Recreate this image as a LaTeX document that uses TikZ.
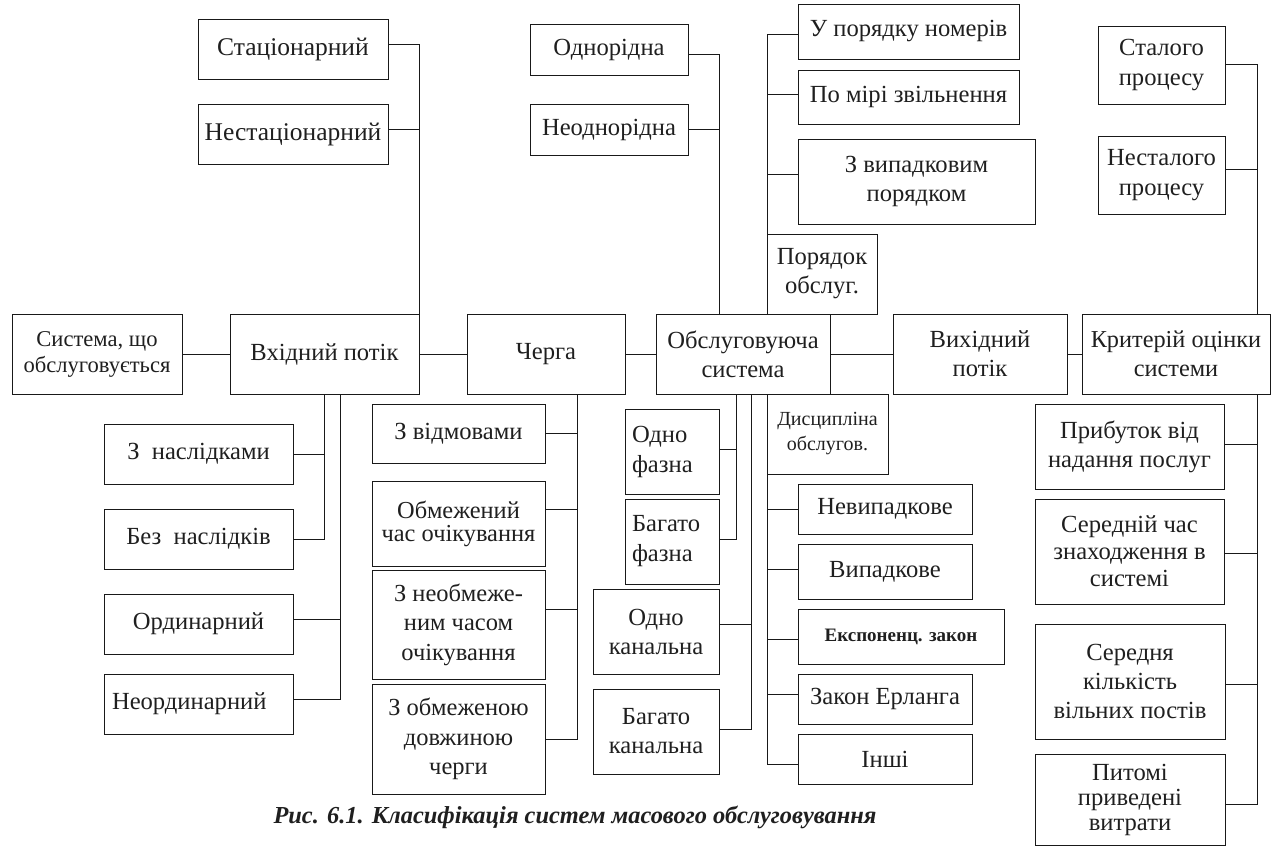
\documentclass[tikz,border=0pt]{standalone}
\usepackage{fontspec}
\setmainfont{Liberation Serif}
\newcommand\bxnode[7]{%
  \pgfmathsetmacro\bxw{#4-#2}\pgfmathsetmacro\bxh{#5-#3}%
  \node[box,minimum width=\bxw pt,minimum height=\bxh pt,#6] (#1) at ({(#2+#4)/2},{(#3+#5)/2}) {#7};}
\begin{document}
\begin{tikzpicture}[x=1pt,y=-1pt,
  box/.style={draw=black!90, line width=0.9pt, inner sep=2pt, outer sep=0pt, align=center,
    text=black!88, font=\fontsize{24.6}{29}\selectfont},
  ln/.style={draw=black!90, line width=0.9pt},
  small/.style={font=\fontsize{20}{25}\selectfont}]
\useasboundingbox (0,0) rectangle (1271,848);
% main row
\bxnode{sys}{12}{314}{182}{394}{font=\fontsize{22.6}{26}\selectfont}{Система, що\\обслуговується}
\bxnode{vhid}{230}{314}{419}{394}{}{Вхідний потік}
\bxnode{cherga}{467}{314}{625}{394}{}{Черга}
\bxnode{obsl}{656}{314}{830}{394}{}{Обслуговуюча\\система}
\bxnode{vyh}{893}{314}{1067}{394}{}{Вихідний\\потік}
\bxnode{krit}{1082}{314}{1270}{394}{font=\fontsize{24.3}{29}\selectfont}{Критерій оцінки\\системи}
% input flow
\bxnode{stac}{198}{19}{388}{79}{font=\fontsize{25.5}{29}\selectfont}{Стаціонарний}
\bxnode{nestac}{198}{104}{388}{164}{font=\fontsize{25.5}{29}\selectfont}{Нестаціонарний}
\bxnode{nasl}{104}{424}{293}{484}{}{З~ наслідками}
\bxnode{beznasl}{104}{509}{293}{569}{}{Без~ наслідків}
\bxnode{ordin}{104}{594}{293}{654}{}{Ординарний}
\bxnode{neordin}{104}{674}{293}{734}{align=left,text width=173pt,inner xsep=8pt}{Неординарний}
% queue
\bxnode{vidm}{372}{404}{545}{463}{}{З відмовами}
\bxnode{obmch}{372}{474}{545}{559}{font=\fontsize{24.4}{23}\selectfont,yshift=-7pt}{Обмежений\\час очікування}
\bxnode{neobm}{372}{570}{545}{679}{font=\fontsize{24.5}{29.5}\selectfont}{З необмеже-\\ним часом\\очікування}
\bxnode{obmdov}{372}{684}{545}{794}{font=\fontsize{24.5}{29.5}\selectfont}{З обмеженою\\довжиною\\черги}
% serving system
\bxnode{odnor}{530}{24}{688}{75}{}{Однорідна}
\bxnode{neodnor}{530}{104}{688}{155}{}{Неоднорідна}
\bxnode{unom}{798}{4}{1019}{59}{}{У порядку номерів}
\bxnode{pomiri}{798}{70}{1019}{124}{}{По мірі звільнення}
\bxnode{zvyp}{798}{139}{1035}{224}{}{З випадковим\\порядком}
\bxnode{poryad}{767}{234}{877}{314}{}{Порядок\\обслуг.}
\bxnode{odnof}{625}{409}{719}{494}{align=left,text width=80pt,inner xsep=6pt,font=\fontsize{24.6}{30}\selectfont}{Одно\\фазна}
\bxnode{bagf}{625}{499}{719}{584}{align=left,text width=80pt,inner xsep=6pt,font=\fontsize{24.6}{30}\selectfont}{Багато\\фазна}
\bxnode{odnok}{593}{589}{719}{674}{}{Одно\\канальна}
\bxnode{bagk}{593}{689}{719}{774}{}{Багато\\канальна}
\bxnode{dysc}{767}{394}{888}{474}{small}{Дисципліна\\обслугов.}
\bxnode{nevyp}{798}{484}{972}{534}{}{Невипадкове}
\bxnode{vyp}{798}{544}{972}{599}{}{Випадкове}
\bxnode{exp}{798}{609}{1004}{664}{font=\fontsize{19}{22}\selectfont\bfseries}{Експоненц. закон}
\bxnode{erl}{798}{674}{972}{724}{}{Закон Ерланга}
\bxnode{inshi}{798}{734}{972}{784}{}{Інші}
% criteria
\bxnode{stal}{1098}{26}{1225}{104}{font=\fontsize{24.6}{30}\selectfont}{Сталого\\процесу}
\bxnode{nestal}{1098}{136}{1225}{214}{font=\fontsize{24.6}{30}\selectfont}{Несталого\\процесу}
\bxnode{prib}{1035}{404}{1224}{489}{}{Прибуток від\\надання послуг}
\bxnode{sered}{1035}{499}{1224}{604}{font=\fontsize{24.6}{27}\selectfont}{Середній час\\знаходження в\\системі}
\bxnode{serk}{1035}{624}{1225}{739}{}{Середня\\кількість\\вільних постів}
\bxnode{pyt}{1035}{754}{1225}{845}{font=\fontsize{24.6}{25}\selectfont}{Питомі\\приведені\\витрати}
% caption
\node[text=black!88, font=\fontsize{24.4}{28}\selectfont\bfseries\itshape] (cap) at (575,817) {Рис. 6.1. Класифікація систем масового обслуговування};
% bus coordinates
\coordinate (vb2) at (340,394);
\coordinate (cb) at (577,394);
\coordinate (ot) at (719,314);
\coordinate (o1) at (736,394);
\coordinate (o2) at (751,394);
\coordinate (kt) at (1257,314);
\coordinate (kb) at (1257,394);
% main row connectors
\draw[ln] (sys) -- (vhid);
\draw[ln] (vhid) -- (cherga);
\draw[ln] (cherga) -- (obsl);
\draw[ln] (obsl) -- (vyh);
\draw[ln] (vyh) -- (krit);
% input flow connectors
\draw[ln] (stac.east |- 0,44) -| (vhid.north east);
\draw[ln] (nestac.east |- 0,129) -- (vhid.north east |- 0,129);
\draw[ln] (nasl.east) -- (nasl.east -| vhid.south);
\draw[ln] (beznasl.east) -| (vhid.south);
\draw[ln] (ordin.east |- 0,619) -- (vb2 |- 0,619);
\draw[ln] (neordin.east |- 0,699) -| (vb2);
% queue connectors
\draw[ln] (vidm.east) -- (cb |- vidm.east);
\draw[ln] (obmch.east |- 0,509) -- (cb |- 0,509);
\draw[ln] (neobm.east |- 0,609) -- (cb |- 0,609);
\draw[ln] (obmdov.east |- 0,739) -| (cb);
% serving system connectors
\draw[ln] (odnor.east |- 0,54) -| (ot);
\draw[ln] (neodnor.east |- 0,129) -- (ot |- 0,129);
\draw[ln] (unom.west |- 0,34) -| (poryad.north west);
\draw[ln] (pomiri.west |- 0,94) -- (poryad.north west |- 0,94);
\draw[ln] (zvyp.west |- 0,174) -- (poryad.north west |- 0,174);
\draw[ln] (odnof.east |- 0,449) -- (o1 |- 0,449);
\draw[ln] (bagf.east |- 0,539) -| (o1);
\draw[ln] (odnok.east |- 0,624) -- (o2 |- 0,624);
\draw[ln] (bagk.east |- 0,729) -| (o2);
\draw[ln] (inshi.west |- 0,764) -| (dysc.south west);
\draw[ln] (nevyp.west) -- (dysc.south west |- nevyp.west);
\draw[ln] (vyp.west |- 0,569) -- (dysc.south west |- 0,569);
\draw[ln] (exp.west |- 0,639) -- (dysc.south west |- 0,639);
\draw[ln] (erl.west |- 0,694) -- (dysc.south west |- 0,694);
% criteria connectors
\draw[ln] (stal.east |- 0,64) -| (kt);
\draw[ln] (nestal.east |- 0,169) -- (kt |- 0,169);
\draw[ln] (pyt.east |- 0,804) -| (kb);
\draw[ln] (prib.east |- 0,444) -- (kb |- 0,444);
\draw[ln] (sered.east |- 0,553) -- (kb |- 0,553);
\draw[ln] (serk.east |- 0,684) -- (kb |- 0,684);
\end{tikzpicture}
\end{document}
